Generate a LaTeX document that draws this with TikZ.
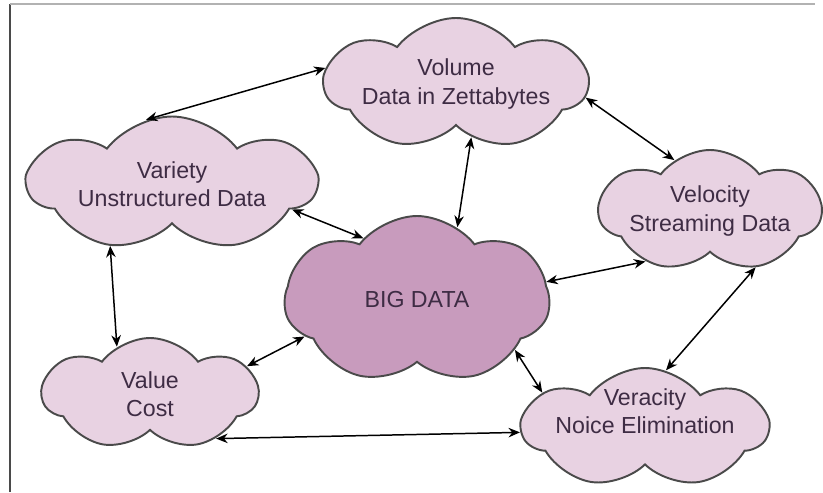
\documentclass[tikz,border=0pt]{standalone}
\usepackage{fontspec}
\setmainfont{Liberation Sans}
\usetikzlibrary{shapes.symbols, arrows.meta}

\definecolor{lilac}{HTML}{E8D2E2}
\definecolor{mauve}{HTML}{C89BBD}
\definecolor{edgegray}{HTML}{4A4A4A}
\definecolor{inkpurple}{HTML}{3E2C44}

\tikzset{
    cloudtext/.style={text=inkpurple, align=center, font=\fontsize{13.2}{16}\selectfont},
    cloudbox/.style={cloud, cloud puffs=7, cloud puff arc=105, cloud ignores aspect,
        draw=edgegray, line width=1.1pt, fill=lilac, inner sep=0pt, cloudtext},
    link/.style={{Stealth[length=2.3mm, width=1.9mm]}-{Stealth[length=2.3mm, width=1.9mm]}, line width=0.85pt, black},
}

\begin{document}
\begin{tikzpicture}
    \useasboundingbox (0,0) rectangle (16.46,-9.84);
    %%% frame
    \draw[edgegray, line width=1pt] (0.2,-9.84) -- (0.2,-0.08);
    \draw[gray!60, line width=0.8pt] (0.2,-0.08) -- (16.3,-0.08);
    %
    %%% the six clouds
    \node[cloudbox, minimum width=5.24cm, minimum height=2.64cm] (vol) at (9.12,-1.68) {Volume\\Data in Zettabytes};
    \node[cloudbox, minimum width=5.74cm, minimum height=2.7cm] (var) at (3.44,-3.68) {Variety\\Unstructured Data};
    \node[cloudbox, minimum width=4.44cm, minimum height=2.44cm] (vel) at (14.2,-4.22) {Velocity\\Streaming Data};
    \node[cloudbox, fill=mauve, minimum width=5.3cm, minimum height=3.36cm] (big) at (8.34,-6.0) {BIG DATA};
    \node[cloudbox, minimum width=4.3cm, minimum height=2.24cm] (val) at (3.0,-7.88) {Value\\Cost};
    \node[cloudbox, minimum width=4.9cm, minimum height=2.4cm,
        label={[name=ver-text, cloudtext, yshift=0.34cm]center:{Veracity\\Noice Elimination}}] (ver) at (12.9,-8.56) {};
    %
    %%% links
    \draw[link] (var.112) -- (vol.173);
    \draw[link] (vol.354) -- (vel.125);
    \draw[link] (vol.286) -- (big.61);
    \draw[link] (var.348) -- (big.131);
    \draw[link] (var.225) -- (val.125);
    \draw[link] (val.16) -- (big.198);
    \draw[link] (big.8) -- (vel.218);
    \draw[link] (vel.309) -- (ver.70);
    \draw[link] (big.333) -- (ver.161);
    \draw[link] (val.326) -- (ver.182);
\end{tikzpicture}
\end{document}
